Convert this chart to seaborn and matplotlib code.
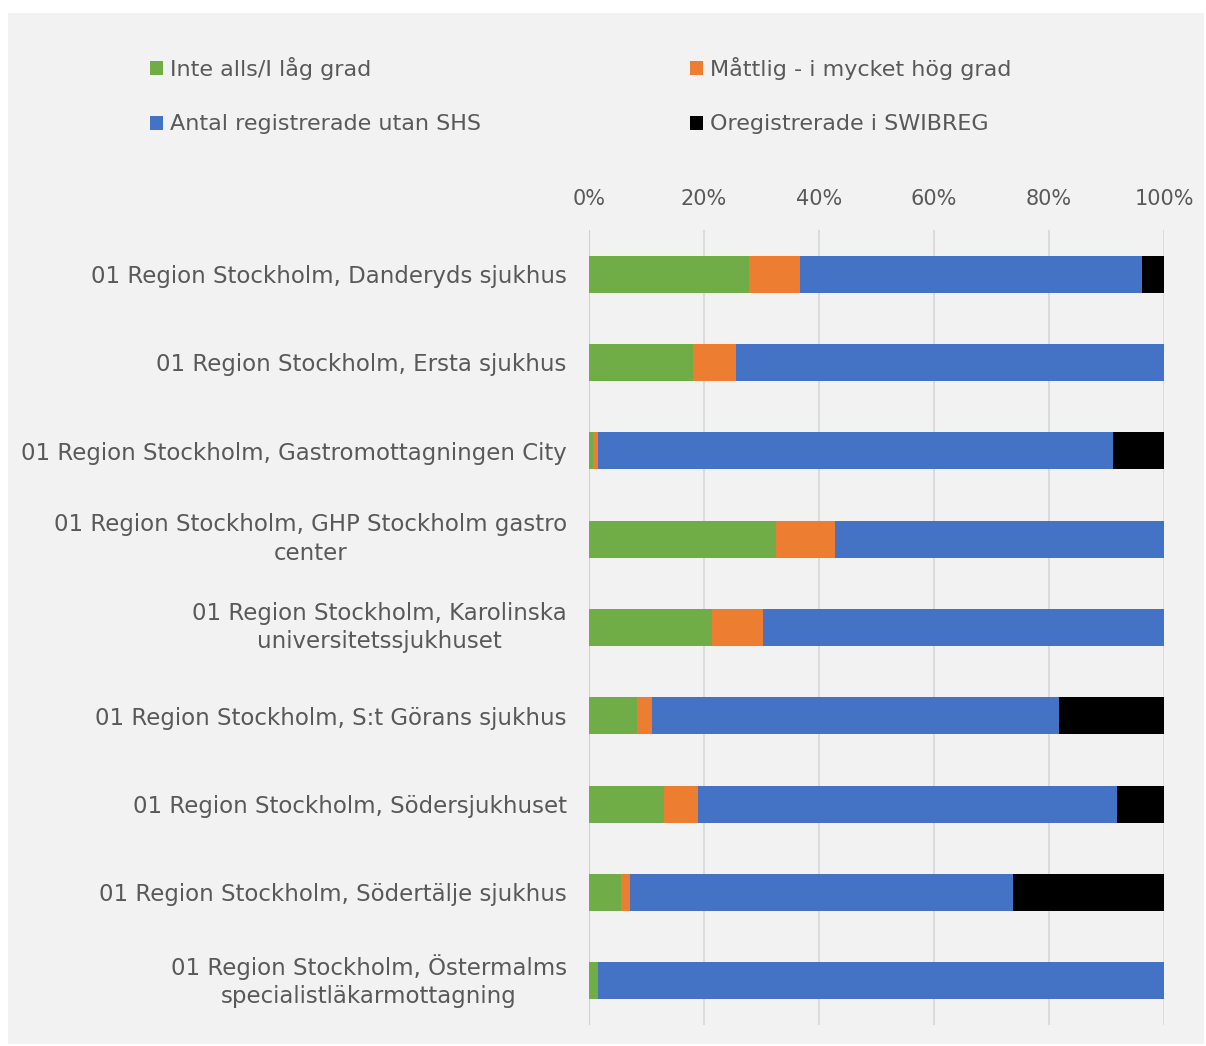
import matplotlib
matplotlib.use("Agg")
import matplotlib.pyplot as plt
import matplotlib.patches as mpatches
import seaborn as sns
import pandas as pd
import numpy as np

categories = [
    "01 Region Stockholm, Danderyds sjukhus",
    "01 Region Stockholm, Ersta sjukhus",
    "01 Region Stockholm, Gastromottagningen City",
    "01 Region Stockholm, GHP Stockholm gastro\ncenter",
    "01 Region Stockholm, Karolinska\nuniversitetssjukhuset",
    "01 Region Stockholm, S:t Görans sjukhus",
    "01 Region Stockholm, Södersjukhuset",
    "01 Region Stockholm, Södertälje sjukhus",
    "01 Region Stockholm, Östermalms\nspecialistläkarmottagning",
]
series_names = ["Inte alls/I låg grad", "Måttlig - i mycket hög grad",
                "Antal registrerade utan SHS", "Oregistrerade i SWIBREG"]
green = [27.8, 18.0, 0.75, 32.6, 21.4, 8.3, 13.0, 5.6, 1.6]
orange = [8.9, 7.5, 0.75, 10.2, 8.9, 2.6, 5.9, 1.5, 0.0]
blue = [59.4, 74.5, 89.6, 57.2, 69.7, 70.8, 73.0, 66.6, 98.4]
black = [3.9, 0.0, 8.9, 0.0, 0.0, 18.3, 8.1, 26.3, 0.0]
colors = ["#70AD47", "#ED7D31", "#4472C4", "#000000"]
xticks = [0, 20, 40, 60, 80, 100]

sns.set_theme(style="white")
plt.rcParams["font.family"] = ["DejaVu Sans"]

W, H = 1206, 1046
fig = plt.figure(figsize=(W / 100, H / 100), dpi=100, facecolor="white")
fig.patches.append(mpatches.Rectangle((8 / W, 2 / H), 1196 / W, 1031 / H,
                                      transform=fig.transFigure, facecolor="#F2F2F2",
                                      edgecolor="none", zorder=-10))
ax = fig.add_axes([589 / W, 21 / H, 575 / W, 795 / H])
ax.set_facecolor("#F2F2F2")

df = pd.DataFrame({"cat": categories, "g": green, "o": orange, "b": blue, "k": black})
layers = [df["g"], df["o"], df["b"], df["k"]]
cums = np.cumsum(np.array(layers), axis=0)

for i in reversed(range(4)):
    d = pd.DataFrame({"cat": categories, "val": cums[i]})
    sns.barplot(data=d, x="val", y="cat", orient="h", color=colors[i], width=0.42,
                saturation=1, ax=ax, zorder=3, linewidth=0)
handles = [mpatches.Patch(facecolor=colors[i], edgecolor="none", label=series_names[i])
           for i in range(4)]
# legend is filled column by column: order so rows read green/orange, blue/black
handles = [handles[0], handles[2], handles[1], handles[3]]

fs = 16
ax.set_xlim(0, 100)
ax.set_ylim(8.5, -0.5)
ax.set_xticks(xticks)
ax.set_xticklabels([f"{t}%" for t in xticks])
ax.xaxis.tick_top()
ax.tick_params(axis="x", length=0, pad=15, labelsize=15, labelcolor="#595959")
ax.tick_params(axis="y", length=0, pad=16, labelsize=16.5, labelcolor="#595959")
for lab in ax.get_yticklabels():
    lab.set_multialignment("center")
    if "\n" in lab.get_text():
        lab.set_linespacing(1.3)
        lab.set_verticalalignment("center")
ax.set_xlabel("")
ax.set_ylabel("")
ax.grid(axis="x", color="#D9D9D9", linewidth=1.3, zorder=0)
ax.grid(axis="y", visible=False)
for s in ax.spines.values():
    s.set_visible(False)
ax.axvline(0, color="#D0D0D0", linewidth=1.5, zorder=2)

leg = fig.legend(handles=handles, loc="upper left", bbox_to_anchor=(130 / W, 1 - 37 / H),
                 ncol=2, frameon=False, fontsize=fs, handlelength=0.6, handleheight=0.6,
                 handletextpad=0.3, columnspacing=9.4, labelspacing=1.55, labelcolor="#595959")

fig.savefig("out.png", dpi=100, facecolor="white")
